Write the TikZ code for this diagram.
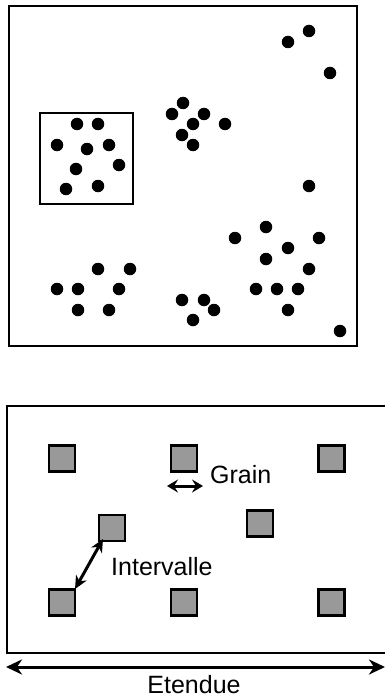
\documentclass[tikz,border=0pt]{standalone}
\usepackage{fontspec}
\setmainfont{Liberation Sans}
\usetikzlibrary{arrows.meta}
\tikzset{
  bigtip/.tip={Stealth[length=16pt,width=15pt,inset=5pt]},
  midtip/.tip={Stealth[length=13pt,width=12pt,inset=4pt]},
  smalltip/.tip={Stealth[length=11pt,width=13pt,inset=4pt]}
}
\begin{document}
\begin{tikzpicture}[x=1pt,y=-1pt,
  dot/.style={circle,fill=black,inner sep=0pt,minimum size=12.5pt},
  sq/.style={draw=black,fill=black!40,line width=2.2pt,minimum size=26pt,inner sep=0pt},
  lbl/.style={inner sep=0pt,font=\fontsize{25}{28}\selectfont},
  arrowline/.style={line width=3pt}]
\useasboundingbox (0,0) rectangle (384,698);
% top panel
\draw[line width=2pt] (9,6) rectangle (357,346);
\draw[line width=1.3pt] (40,113) rectangle (133,204);
\foreach \x/\y [count=\i] in {288/42,309/31,330/73,183/103,172/114,204/114,193/124,225/124,182/135,193/145,
  77/124,98/124,57/145,87/149,109/145,119/165,76/169,66/189,98/186,
  309/186,266/227,235/238,319/238,288/248,266/259,309/269,
  98/269,130/269,57/289,78/289,119/289,78/310,109/310,
  256/289,277/289,298/289,288/310,340/331,
  182/300,204/300,214/310,193/320}
  \node[dot] (d\i) at (\x,\y) {};
% bottom panel
\draw[line width=2pt] (7,406) rectangle (390,653);
\node[sq] (s11) at (62,458.5) {};
\node[sq] (s12) at (184,458.5) {};
\node[sq] (s13) at (331.5,458.5) {};
\node[sq] (s21) at (112,528) {};
\node[sq] (s22) at (260,523.5) {};
\node[sq] (s31) at (62,602.5) {};
\node[sq] (s32) at (184,602.5) {};
\node[sq] (s33) at (331.5,602.5) {};
\node[lbl,anchor=base west] (grain) at (210,483) {Grain};
\node[lbl,anchor=base west] (interv) at (111,575) {Intervalle};
\node[lbl,anchor=base] (etendue) at (194,693) {Etendue};
\coordinate (ga) at (167,486);
\coordinate (gb) at (203,486);
\draw[arrowline,smalltip-smalltip] (ga) -- (gb);
\coordinate (ia) at (75,589);
\coordinate (ib) at (103,539);
\draw[arrowline,midtip-midtip] (ia) -- (ib);
\coordinate (ea) at (6,667);
\coordinate (eb) at (385,667);
\draw[arrowline,bigtip-bigtip] (ea) -- (eb);
\end{tikzpicture}
\end{document}
